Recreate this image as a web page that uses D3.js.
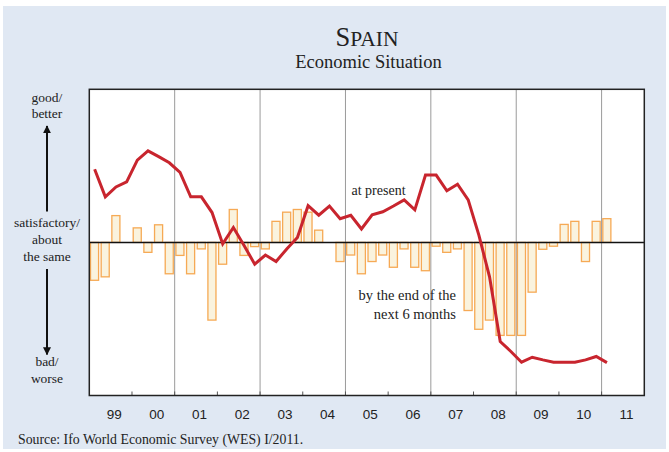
<!DOCTYPE html>
<html>
<head>
<meta charset="utf-8">
<script src="https://cdn.jsdelivr.net/npm/d3@7"></script>
<style>
  body { margin: 0; background: #fff; }
  svg { display: block; }
  .serif { font-family: "Liberation Serif", "Times New Roman", serif; fill: #222; }
  .sans { font-family: "Liberation Sans", Arial, sans-serif; fill: #222; }
</style>
</head>
<body>
<div id="chart"></div>
<script>
// Daten: vierteljährlich, 1999 Q1 bis 2011 Q1 (Skala 1 = schlecht, 5 = befriedigend, 9 = gut)
const startYear = 1999;
const yearLabels = ["99", "00", "01", "02", "03", "04", "05", "06", "07", "08", "09", "10", "11"];

// "at present" (Linie)
const atPresent = [6.91, 6.19, 6.45, 6.58, 7.15, 7.39, 7.24, 7.08, 6.83, 6.19, 6.19, 5.78,
  4.96, 5.39, 4.92, 4.43, 4.67, 4.50, 4.83, 5.13, 5.96, 5.71, 5.95, 5.62,
  5.71, 5.35, 5.72, 5.80, 5.95, 6.11, 5.85, 6.76, 6.76, 6.35, 6.52, 6.11,
  5.19, 4.10, 2.41, 2.15, 1.87, 2.00, 1.93, 1.87, 1.87, 1.87, 1.93, 2.02, 1.86];

// "by the end of the next 6 months" (Balken)
const nextSixMonths = [4.01, 4.10, 5.70, 5.00, 5.38, 4.74, 5.46, 4.18, 4.66, 4.18, 4.83, 2.97,
  4.43, 5.86, 4.66, 4.89, 4.83, 5.55, 5.79, 5.86, 5.79, 5.32, 5.00, 4.50,
  4.67, 4.18, 4.50, 4.67, 4.35, 4.83, 4.35, 4.26, 4.90, 4.74, 4.83, 3.22,
  2.73, 2.97, 2.57, 2.57, 2.57, 3.70, 4.82, 4.90, 5.47, 5.55, 4.50, 5.55, 5.62];

const neutral = 5;

const W = 669, H = 452;
const plot = {left: 89.3, top: 89.3, right: 644.3, bottom: 395.5};

const svg = d3.select("#chart").append("svg")
    .attr("width", W)
    .attr("height", H);

// Hintergrund
svg.append("rect")
    .attr("x", 3).attr("y", 6)
    .attr("width", 663).attr("height", 443)
    .attr("fill", "#e0e8f3");

svg.append("rect")
    .attr("x", plot.left).attr("y", plot.top)
    .attr("width", plot.right - plot.left).attr("height", plot.bottom - plot.top)
    .attr("fill", "#fff");

const x = d3.scaleLinear()
    .domain([startYear, startYear + yearLabels.length])
    .range([plot.left, plot.right]);

const y = d3.scaleLinear()
    .domain([1, 9])
    .range([plot.bottom, plot.top]);

const quarterTime = i => startYear + i / 4;

// senkrechte Gitterlinien alle zwei Jahre
const gridYears = d3.range(startYear + 2, startYear + yearLabels.length, 2);
svg.selectAll(".grid")
    .data(gridYears)
    .enter().append("line")
    .attr("class", "grid")
    .attr("x1", d => x(d)).attr("x2", d => x(d))
    .attr("y1", plot.top).attr("y2", plot.bottom)
    .attr("stroke", "#9a9a9a")
    .attr("stroke-width", 1);

// kleine Jahresmarken unten
svg.selectAll(".tick")
    .data(d3.range(startYear + 1, startYear + yearLabels.length))
    .enter().append("line")
    .attr("x1", d => x(d)).attr("x2", d => x(d))
    .attr("y1", plot.bottom).attr("y2", plot.bottom - 4)
    .attr("stroke", "#555")
    .attr("stroke-width", 1);

// Balken
svg.selectAll(".bar")
    .data(nextSixMonths)
    .enter().append("rect")
    .attr("class", "bar")
    .attr("x", (d, i) => x(quarterTime(i)) + 1.2)
    .attr("width", (d, i) => x(quarterTime(i + 1)) - x(quarterTime(i)) - 2.6)
    .attr("y", d => Math.min(y(d), y(neutral)))
    .attr("height", d => Math.abs(y(d) - y(neutral)))
    .attr("fill", "#faf3de")
    .attr("stroke", "#f59b3a")
    .attr("stroke-opacity", 0.85)
    .attr("stroke-width", 1.3);

// Nulllinie
svg.append("line")
    .attr("x1", plot.left).attr("x2", plot.right)
    .attr("y1", y(neutral)).attr("y2", y(neutral))
    .attr("stroke", "#111")
    .attr("stroke-width", 1.5);

// Linie "at present"
const line = d3.line()
    .x((d, i) => x(quarterTime(i) + 0.125))
    .y(d => y(d));

svg.append("path")
    .datum(atPresent)
    .attr("d", line)
    .attr("fill", "none")
    .attr("stroke", "#c8252e")
    .attr("stroke-width", 3)
    .attr("stroke-linejoin", "miter");

// Rahmen
svg.append("rect")
    .attr("x", plot.left).attr("y", plot.top)
    .attr("width", plot.right - plot.left).attr("height", plot.bottom - plot.top)
    .attr("fill", "none")
    .attr("stroke", "#222")
    .attr("stroke-width", 1.5);

// Jahresbeschriftung
svg.selectAll(".ylab")
    .data(yearLabels)
    .enter().append("text")
    .attr("class", "sans")
    .attr("x", (d, i) => x(startYear + i + 0.5) + 3.5)
    .attr("y", 418.5)
    .attr("text-anchor", "middle")
    .attr("font-size", 13.5)
    .text(d => d);

// Titel
const title = svg.append("text")
    .attr("class", "serif")
    .attr("x", 367)
    .attr("y", 46)
    .attr("text-anchor", "middle");
title.append("tspan").attr("font-size", 26.5).text("S");
title.append("tspan").attr("font-size", 21.5).text("PAIN");

svg.append("text")
    .attr("class", "serif")
    .attr("x", 368.5)
    .attr("y", 67.5)
    .attr("text-anchor", "middle")
    .attr("font-size", 18.5)
    .text("Economic Situation");

// Achsenbeschriftung links
const sideLabels = [
    {t: "good/", y: 101.5}, {t: "better", y: 117.5},
    {t: "satisfactory/", y: 227}, {t: "about", y: 244}, {t: "the same", y: 261},
    {t: "bad/", y: 366}, {t: "worse", y: 383}
];
svg.selectAll(".side")
    .data(sideLabels)
    .enter().append("text")
    .attr("class", "serif")
    .attr("x", 47)
    .attr("y", d => d.y)
    .attr("text-anchor", "middle")
    .attr("font-size", 13.5)
    .text(d => d.t);

// Pfeile
const defs = svg.append("defs");
defs.append("marker")
    .attr("id", "head")
    .attr("viewBox", "0 0 10 10")
    .attr("refX", 9).attr("refY", 5)
    .attr("markerWidth", 4).attr("markerHeight", 4)
    .attr("orient", "auto")
    .append("path")
    .attr("d", "M0,0 L10,5 L0,10 z")
    .attr("fill", "#111");

svg.append("line")
    .attr("x1", 47).attr("x2", 47)
    .attr("y1", 211.5).attr("y2", 126)
    .attr("stroke", "#111").attr("stroke-width", 2)
    .attr("marker-end", "url(#head)");

svg.append("line")
    .attr("x1", 47).attr("x2", 47)
    .attr("y1", 269).attr("y2", 354.5)
    .attr("stroke", "#111").attr("stroke-width", 2)
    .attr("marker-end", "url(#head)");

// Serienbeschriftung
svg.append("text")
    .attr("class", "serif")
    .attr("x", 351.5).attr("y", 195)
    .attr("font-size", 14)
    .text("at present");

svg.append("text")
    .attr("class", "serif")
    .attr("x", 456).attr("y", 300)
    .attr("text-anchor", "end")
    .attr("font-size", 14.5)
    .text("by the end of the");

svg.append("text")
    .attr("class", "serif")
    .attr("x", 456).attr("y", 318.5)
    .attr("text-anchor", "end")
    .attr("font-size", 14.5)
    .text("next 6 months");

// Quelle
svg.append("text")
    .attr("class", "serif")
    .attr("x", 18).attr("y", 444)
    .attr("font-size", 13.8)
    .text("Source: Ifo World Economic Survey (WES) I/2011.");
</script>
</body>
</html>
